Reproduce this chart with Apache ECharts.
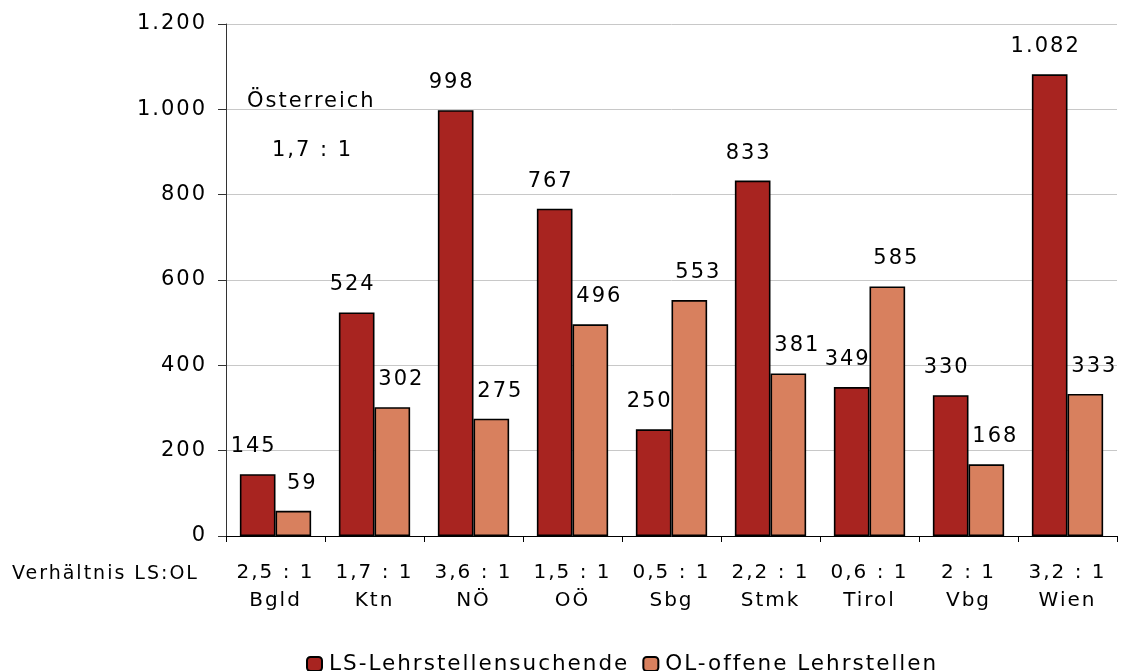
<!DOCTYPE html>
<html>
<head>
<meta charset="utf-8">
<script src="https://cdn.jsdelivr.net/npm/echarts@6/dist/echarts.min.js"></script>
<style>html,body{margin:0;padding:0;background:#fff}#c{width:1125px;height:671px}</style>
</head>
<body>
<div id="c"></div>
<script>
const categories = ['Bgld','Ktn','NÖ','OÖ','Sbg','Stmk','Tirol','Vbg','Wien'];
const ratios = ['2,5 : 1','1,7 : 1','3,6 : 1','1,5 : 1','0,5 : 1','2,2 : 1','0,6 : 1','2 : 1','3,2 : 1'];
const lsValues = [145,524,998,767,250,833,349,330,1082];
const olValues = [59,302,275,496,553,381,585,168,333];
const seriesNames = ['LS-Lehrstellensuchende','OL-offene Lehrstellen'];
const yTicks = {min:0, max:1200, interval:200};

// the reference text is set with wide tracking; emulate it with canvas letter spacing
(function(){
  const protos = [window.CanvasRenderingContext2D, window.OffscreenCanvasRenderingContext2D]
    .filter(Boolean).map(c => c.prototype);
  const SP = '2px';
  protos.forEach(P => {
    ['fillText','strokeText','measureText'].forEach(fn => {
      const orig = P[fn];
      if (!orig) return;
      P[fn] = function(){ try { this.letterSpacing = SP; } catch(e){} return orig.apply(this, arguments); };
    });
  });
})();

const FONT = 'DejaVu Sans';
const fmt = v => String(v).replace(/\B(?=(\d{3})+(?!\d))/g, '.');

const chart = echarts.init(document.getElementById('c'), null, {renderer:'canvas'});
chart.setOption({
  backgroundColor:'#fff',
  animation:false,
  textStyle:{fontFamily:FONT},
  grid:{left:226, right:8, top:24, bottom:135, containLabel:false},
  legend:{
    top:647, left:301,
    itemWidth:15, itemHeight:14, itemGap:13,
    textStyle:{fontFamily:FONT, fontSize:21.5, color:'#000', padding:[0,0,0,2]},
    data:seriesNames
  },
  xAxis:{
    type:'category', data:categories,
    axisLine:{lineStyle:{color:'#000', width:1}},
    axisTick:{show:true, alignWithLabel:false, length:6, lineStyle:{color:'#000'}},
    axisLabel:{
      interval:0, hideOverlap:false,
      margin:23, color:'#000', fontFamily:FONT, fontSize:20, lineHeight:28,
      formatter:(v, i) => ratios[i] + '\n' + v
    }
  },
  yAxis:{
    type:'value', min:yTicks.min, max:yTicks.max, interval:yTicks.interval,
    axisLine:{show:true, lineStyle:{color:'#333'}},
    axisTick:{show:true, length:8, lineStyle:{color:'#333'}},
    splitLine:{lineStyle:{color:'#c8c8c8', width:1}},
    axisLabel:{color:'#000', fontFamily:FONT, fontSize:21, margin:19, formatter:fmt}
  },
  graphic:[
    {type:'text', left:12, top:564, style:{text:'Verhältnis LS:OL', font:'19px "DejaVu Sans"', fill:'#000'}},
    {type:'text', left:247, top:90, style:{text:'Österreich', font:'21px "DejaVu Sans"', fill:'#000'}},
    {type:'text', left:272, top:139, style:{text:'1,7 : 1', font:'21px "DejaVu Sans"', fill:'#000'}}
  ],
  series:[
    {
      name:seriesNames[0], type:'bar', data:lsValues,
      barGap:'0%', barCategoryGap:'28%',
      itemStyle:{color:'#A82420', borderColor:'#000', borderWidth:1.6},
      label:{show:true, position:'top', distance:16, offset:[-4,0], color:'#000', fontFamily:FONT, fontSize:21, formatter:p=>fmt(p.value)}
    },
    {
      name:seriesNames[1], type:'bar', data:olValues,
      barGap:'0%', barCategoryGap:'28%',
      itemStyle:{color:'#D8805E', borderColor:'#000', borderWidth:1.6},
      label:{show:true, position:'top', distance:16, offset:[9,0], color:'#000', fontFamily:FONT, fontSize:21, formatter:p=>fmt(p.value)}
    }
  ]
});
</script>
</body>
</html>
